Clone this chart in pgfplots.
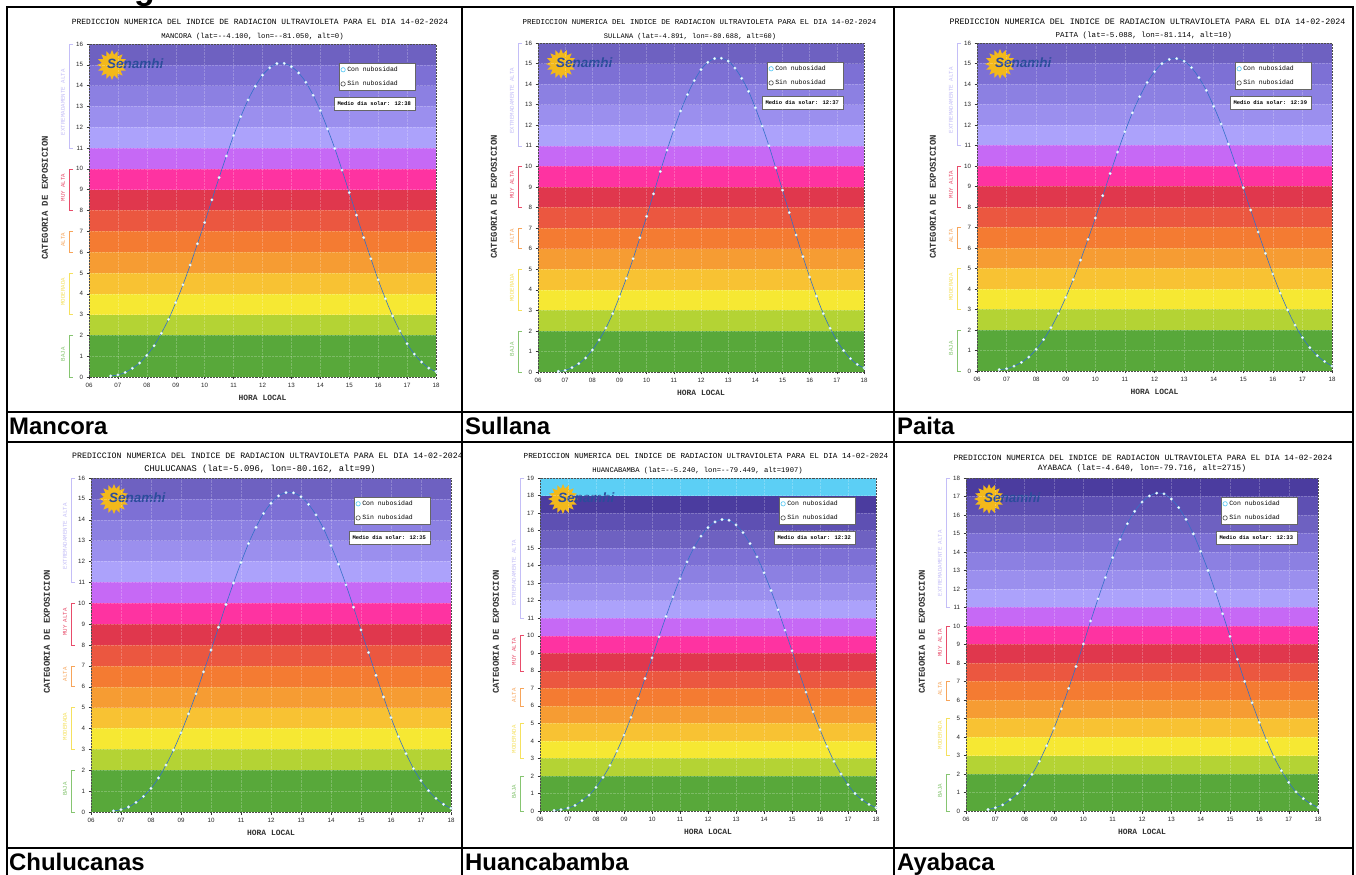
\documentclass[border=0pt]{standalone}
\usepackage{fontspec}
\setmainfont{Liberation Serif}
\newfontfamily\monof{Liberation Mono}
\newfontfamily\sansf{Liberation Sans}
\usepackage{pgfplots}
\pgfplotsset{compat=1.18}
\usetikzlibrary{shapes.geometric}

\definecolor{b1}{HTML}{58A83A}
\definecolor{b2}{HTML}{58A83A}
\definecolor{b3}{HTML}{B4D334}
\definecolor{b4}{HTML}{F6E833}
\definecolor{b5}{HTML}{F8C233}
\definecolor{b6}{HTML}{F69C33}
\definecolor{b7}{HTML}{F47B32}
\definecolor{b8}{HTML}{EB5740}
\definecolor{b9}{HTML}{E0374D}
\definecolor{b10}{HTML}{FE33A1}
\definecolor{b11}{HTML}{C669F5}
\definecolor{b12}{HTML}{ACA2FB}
\definecolor{b13}{HTML}{9B8FEE}
\definecolor{b14}{HTML}{8C80E2}
\definecolor{b15}{HTML}{7D70D5}
\definecolor{b16}{HTML}{6E61C1}
\definecolor{b17}{HTML}{5E50B3}
\definecolor{b18}{HTML}{4B3C9F}
\definecolor{b19}{HTML}{5CCFF5}
\definecolor{catEA}{HTML}{C4BEF7}
\definecolor{catMA}{HTML}{E84C6A}
\definecolor{catA}{HTML}{F7A55A}
\definecolor{catM}{HTML}{F5E15E}
\definecolor{catB}{HTML}{86C571}
\definecolor{sunY}{HTML}{F3B91B}
\definecolor{senB}{HTML}{2B4C9B}
\definecolor{curveB}{HTML}{3470C8}

\newcommand\band[1]{\addplot[draw=none, fill=b#1, forget plot] coordinates {(6,#1) (18,#1)} \closedcycle;}
\newcommand\uvcurve{\addplot[forget plot, color=curveB, line width=0.6bp, smooth, mark=*, mark size=1.3bp, mark options={fill=white, draw=cyan!25!white, line width=0.3bp, solid}]}
\newcommand\catlabelfont{\monof\fontsize{5.8}{6}\selectfont}
\newcommand\cats[2]{%
 \draw[catEA, line width=0.5bp] ([xshift=-16bp]axis cs:6,#1) -| ([xshift=-20bp]axis cs:6,11) -- ([xshift=-16bp]axis cs:6,11);
 \draw[catMA, line width=0.5bp] ([xshift=-16bp]axis cs:6,10) -| ([xshift=-20bp]axis cs:6,8) -- ([xshift=-16bp]axis cs:6,8);
 \draw[catA, line width=0.5bp] ([xshift=-16bp]axis cs:6,7) -| ([xshift=-20bp]axis cs:6,6) -- ([xshift=-16bp]axis cs:6,6);
 \draw[catM, line width=0.5bp] ([xshift=-16bp]axis cs:6,5) -| ([xshift=-20bp]axis cs:6,3) -- ([xshift=-16bp]axis cs:6,3);
 \draw[catB, line width=0.5bp] ([xshift=-16bp]axis cs:6,2) -| ([xshift=-20bp]axis cs:6,0) -- ([xshift=-16bp]axis cs:6,0);
 \node[rotate=90, text=catEA, font=\catlabelfont, inner sep=0] at ([xshift=-26bp]axis cs:6,#2) {EXTREMADAMENTE ALTA};
 \node[rotate=90, text=catMA, font=\catlabelfont, inner sep=0] at ([xshift=-26bp]axis cs:6,9.1) {MUY ALTA};
 \node[rotate=90, text=catA, font=\catlabelfont, inner sep=0] at ([xshift=-26bp]axis cs:6,6.6) {ALTA};
 \node[rotate=90, text=catM, font=\catlabelfont, inner sep=0] at ([xshift=-26bp]axis cs:6,4.1) {MODERADA};
 \node[rotate=90, text=catB, font=\catlabelfont, inner sep=0] at ([xshift=-26bp]axis cs:6,1.1) {BAJA};
}
\newcommand\logo{%
 \node[star, star points=16, star point ratio=1.45, fill=sunY, inner sep=0pt, minimum size=30bp] at ([xshift=23bp,yshift=-21bp]axis description cs:0,1) {};
 \node[anchor=west, inner sep=0, font=\sansf\bfseries\itshape\fontsize{13.5}{13.5}\selectfont, text=senB] at ([xshift=18bp,yshift=-20bp]axis description cs:0,1) {Senamhi};
}
\newcommand\medio[1]{\node[draw=black!60, fill=white, anchor=north east, minimum width=81bp, minimum height=13bp, inner sep=1bp, font=\monof\bfseries\fontsize{5.5}{6}\selectfont] at ([xshift=-21bp,yshift=-53bp]axis description cs:1,1) {Medio dia solar: #1};}
\newcommand\leg{%
 \addlegendimage{only marks, mark=o, mark size=2.2bp, cyan!70!white, line width=0.6bp}
 \addlegendentry{\makebox[64bp][l]{Con nubosidad}}
 \addlegendimage{only marks, mark=o, mark size=2.2bp, black!70, line width=0.6bp}
 \addlegendentry{\makebox[64bp][l]{Sin nubosidad}}
}

\pgfplotsset{
  uvbase/.style={
    scale only axis, xmin=6, xmax=18, ymin=0,
    xtick={6,...,18}, xticklabels={06,07,08,09,10,11,12,13,14,15,16,17,18},
    ytick distance=1,
    tick pos=left, tick align=outside, major tick length=2.5bp,
    tick style={black!80, line width=0.4bp},
    tick label style={font=\sansf\fontsize{6.2}{7}\selectfont, text=black!85},
    /pgf/number format/assume math mode=true,
    axis line style={densely dotted, black!70, line width=0.5bp},
    grid=major, grid style={densely dotted, white, opacity=0.22, line width=0.4bp},
    axis on top, clip=false,
    xlabel={HORA LOCAL}, ylabel={CATEGORIA DE EXPOSICION},
    xlabel style={font=\monof\bfseries\fontsize{8}{9}\selectfont, text=black!80, at={([yshift=-21bp]axis description cs:0.5,0)}, anchor=center},
    ylabel style={font=\monof\bfseries\fontsize{9}{10}\selectfont, text=black!80, at={([xshift=-44bp,yshift=-154bp]axis description cs:0,1)}, anchor=center},
    legend style={at={([xshift=-21bp,yshift=-19bp]axis description cs:1,1)}, anchor=north east, draw=black!60, fill=white, font=\monof\fontsize{6.5}{7}\selectfont, inner xsep=1.5bp, inner ysep=1.5bp, row sep=4bp, cells={anchor=west}},
    legend image code/.code={\draw[##1] plot coordinates {(2.5bp,0bp)};},
  }
}

\begin{document}
\begin{tikzpicture}[x=1bp,y=1bp]
\fill[white] (0,0) rectangle (1356,874);

% ---------- Mancora
\begin{axis}[uvbase, at={(89bp,497bp)}, anchor=south west, width=347bp, height=333bp, ymax=16]
\band{16}\band{15}\band{14}\band{13}\band{12}\band{11}\band{10}\band{9}\band{8}\band{7}\band{6}\band{5}\band{4}\band{3}\band{2}\band{1}
\uvcurve table {
6.75 0.05
7.00 0.10
7.25 0.22
7.50 0.42
7.75 0.67
8.00 1.04
8.25 1.50
8.50 2.10
8.75 2.77
9.00 3.57
9.25 4.43
9.50 5.38
9.75 6.40
10.00 7.42
10.25 8.51
10.50 9.58
10.75 10.62
11.00 11.60
11.25 12.51
11.50 13.31
11.75 13.97
12.00 14.50
12.25 14.85
12.50 15.06
12.75 15.07
13.00 14.91
13.25 14.61
13.50 14.16
13.75 13.54
14.00 12.80
14.25 11.92
14.50 10.98
14.75 9.94
15.00 8.86
15.25 7.78
15.50 6.70
15.75 5.68
16.00 4.67
16.25 3.76
16.50 2.93
16.75 2.21
17.00 1.60
17.25 1.10
17.50 0.72
17.75 0.43
18.00 0.26
};
\cats{16}{13.2}
\logo
\medio{12:38}
\leg
\end{axis}

% ---------- Sullana
\begin{axis}[uvbase, at={(538bp,502bp)}, anchor=south west, width=326bp, height=329bp, ymax=16]
\band{16}\band{15}\band{14}\band{13}\band{12}\band{11}\band{10}\band{9}\band{8}\band{7}\band{6}\band{5}\band{4}\band{3}\band{2}\band{1}
\uvcurve table {
6.75 0.03
7.00 0.08
7.25 0.21
7.50 0.41
7.75 0.68
8.00 1.07
8.25 1.56
8.50 2.14
8.75 2.84
9.00 3.67
9.25 4.55
9.50 5.51
9.75 6.53
10.00 7.57
10.25 8.66
10.50 9.75
10.75 10.79
11.00 11.78
11.25 12.69
11.50 13.49
11.75 14.17
12.00 14.70
12.25 15.06
12.50 15.24
12.75 15.26
13.00 15.12
13.25 14.78
13.50 14.28
13.75 13.65
14.00 12.85
14.25 11.96
14.50 11.00
14.75 9.93
15.00 8.84
15.25 7.75
15.50 6.66
15.75 5.61
16.00 4.62
16.25 3.69
16.50 2.84
16.75 2.13
17.00 1.53
17.25 1.04
17.50 0.65
17.75 0.37
18.00 0.20
};
\cats{16}{13.2}
\logo
\medio{12:37}
\leg
\end{axis}

% ---------- Paita
\begin{axis}[uvbase, at={(977bp,503bp)}, anchor=south west, width=355bp, height=328bp, ymax=16]
\band{16}\band{15}\band{14}\band{13}\band{12}\band{11}\band{10}\band{9}\band{8}\band{7}\band{6}\band{5}\band{4}\band{3}\band{2}\band{1}
\uvcurve table {
6.75 0.07
7.00 0.11
7.25 0.24
7.50 0.42
7.75 0.68
8.00 1.06
8.25 1.53
8.50 2.11
8.75 2.80
9.00 3.59
9.25 4.46
9.50 5.41
9.75 6.42
10.00 7.46
10.25 8.55
10.50 9.63
10.75 10.68
11.00 11.67
11.25 12.59
11.50 13.38
11.75 14.07
12.00 14.60
12.25 14.99
12.50 15.20
12.75 15.24
13.00 15.11
13.25 14.80
13.50 14.31
13.75 13.69
14.00 12.91
14.25 12.05
14.50 11.07
14.75 10.03
15.00 8.94
15.25 7.85
15.50 6.78
15.75 5.74
16.00 4.73
16.25 3.80
16.50 2.98
16.75 2.24
17.00 1.63
17.25 1.14
17.50 0.75
17.75 0.46
18.00 0.24
};
\cats{16}{13.2}
\logo
\medio{12:39}
\leg
\end{axis}

% ---------- Chulucanas
\begin{axis}[uvbase, at={(91bp,62bp)}, anchor=south west, width=360bp, height=334bp, ymax=16]
\band{16}\band{15}\band{14}\band{13}\band{12}\band{11}\band{10}\band{9}\band{8}\band{7}\band{6}\band{5}\band{4}\band{3}\band{2}\band{1}
\uvcurve table {
6.75 0.05
7.00 0.11
7.25 0.24
7.50 0.46
7.75 0.75
8.00 1.13
8.25 1.63
8.50 2.25
8.75 2.97
9.00 3.79
9.25 4.70
9.50 5.66
9.75 6.71
10.00 7.76
10.25 8.85
10.50 9.94
10.75 10.97
11.00 11.95
11.25 12.86
11.50 13.64
11.75 14.30
12.00 14.79
12.25 15.14
12.50 15.30
12.75 15.29
13.00 15.10
13.25 14.74
13.50 14.23
13.75 13.58
14.00 12.76
14.25 11.87
14.50 10.88
14.75 9.81
15.00 8.72
15.25 7.64
15.50 6.55
15.75 5.51
16.00 4.52
16.25 3.61
16.50 2.80
16.75 2.08
17.00 1.50
17.25 1.02
17.50 0.65
17.75 0.37
18.00 0.18
};
\cats{16}{13.2}
\logo
\medio{12:35}
\leg
\end{axis}

% ---------- Huancabamba
\begin{axis}[uvbase, at={(540bp,63bp)}, anchor=south west, width=336bp, height=333bp, ymax=19]
\band{19}\band{18}\band{17}\band{16}\band{15}\band{14}\band{13}\band{12}\band{11}\band{10}\band{9}\band{8}\band{7}\band{6}\band{5}\band{4}\band{3}\band{2}\band{1}
\uvcurve table {
6.50 0.04
6.75 0.08
7.00 0.17
7.25 0.32
7.50 0.59
7.75 0.91
8.00 1.35
8.25 1.92
8.50 2.60
8.75 3.42
9.00 4.33
9.25 5.34
9.50 6.42
9.75 7.56
10.00 8.74
10.25 9.94
10.50 11.10
10.75 12.22
11.00 13.26
11.25 14.21
11.50 15.03
11.75 15.68
12.00 16.17
12.25 16.49
12.50 16.63
12.75 16.59
13.00 16.32
13.25 15.88
13.50 15.26
13.75 14.50
14.00 13.59
14.25 12.58
14.50 11.48
14.75 10.32
15.00 9.14
15.25 7.94
15.50 6.78
15.75 5.66
16.00 4.64
16.25 3.69
16.50 2.83
16.75 2.11
17.00 1.50
17.25 1.00
17.50 0.65
17.75 0.38
18.00 0.19
};
\cats{19}{13.6}
\logo
\medio{12:32}
\leg
\end{axis}

% ---------- Ayabaca
\begin{axis}[uvbase, at={(966bp,63bp)}, anchor=south west, width=352bp, height=333bp, ymax=18]
\band{18}\band{17}\band{16}\band{15}\band{14}\band{13}\band{12}\band{11}\band{10}\band{9}\band{8}\band{7}\band{6}\band{5}\band{4}\band{3}\band{2}\band{1}
\uvcurve table {
6.75 0.08
7.00 0.18
7.25 0.33
7.50 0.61
7.75 0.94
8.00 1.39
8.25 1.98
8.50 2.69
8.75 3.53
9.00 4.47
9.25 5.52
9.50 6.63
9.75 7.81
10.00 9.03
10.25 10.27
10.50 11.47
10.75 12.62
11.00 13.70
11.25 14.68
11.50 15.53
11.75 16.20
12.00 16.70
12.25 17.03
12.50 17.18
12.75 17.14
13.00 16.86
13.25 16.40
13.50 15.76
13.75 14.98
14.00 14.04
14.25 13.00
14.50 11.86
14.75 10.66
15.00 9.44
15.25 8.20
15.50 7.00
15.75 5.85
16.00 4.79
16.25 3.81
16.50 2.92
16.75 2.18
17.00 1.55
17.25 1.03
17.50 0.67
17.75 0.39
18.00 0.20
};
\cats{18}{13.4}
\logo
\medio{12:33}
\leg
\end{axis}

% ---------- titles
\node[font=\monof\fontsize{7.97}{8}\selectfont, text=black, inner sep=0] at (260,852) {PREDICCION NUMERICA DEL INDICE DE RADIACION ULTRAVIOLETA PARA EL DIA 14-02-2024};
\node[font=\monof\fontsize{7.26}{8}\selectfont, text=black, inner sep=0] at (252.5,837) {MANCORA (lat=-{}-4.100, lon=-{}-81.050, alt=0)};
\node[font=\monof\fontsize{7.49}{8}\selectfont, text=black, inner sep=0] at (699.5,852) {PREDICCION NUMERICA DEL INDICE DE RADIACION ULTRAVIOLETA PARA EL DIA 14-02-2024};
\node[font=\monof\fontsize{7.03}{8}\selectfont, text=black, inner sep=0] at (690,837) {SULLANA (lat=-4.891, lon=-80.688, alt=60)};
\node[font=\monof\fontsize{8.38}{9}\selectfont, text=black, inner sep=0] at (1147.5,852) {PREDICCION NUMERICA DEL INDICE DE RADIACION ULTRAVIOLETA PARA EL DIA 14-02-2024};
\node[font=\monof\fontsize{7.56}{8}\selectfont, text=black, inner sep=0] at (1143.7,838) {PAITA (lat=-5.088, lon=-81.114, alt=10)};
\begin{scope}
\clip (8,400) rectangle (461,430);
\node[anchor=west, font=\monof\fontsize{8.27}{9}\selectfont, text=black, inner sep=0] at (72,418.3) {PREDICCION NUMERICA DEL INDICE DE RADIACION ULTRAVIOLETA PARA EL DIA 14-02-2024};
\end{scope}
\node[font=\monof\fontsize{8.8}{9}\selectfont, text=black, inner sep=0] at (260,405) {CHULUCANAS (lat=-5.096, lon=-80.162, alt=99)};
\node[font=\monof\fontsize{7.72}{8}\selectfont, text=black, inner sep=0] at (706,418) {PREDICCION NUMERICA DEL INDICE DE RADIACION ULTRAVIOLETA PARA EL DIA 14-02-2024};
\node[font=\monof\fontsize{7.18}{8}\selectfont, text=black, inner sep=0] at (697.5,403.3) {HUANCABAMBA (lat=-{}-5.240, lon=-{}-79.449, alt=1907)};
\node[font=\monof\fontsize{8.02}{9}\selectfont, text=black, inner sep=0] at (1143,416.3) {PREDICCION NUMERICA DEL INDICE DE RADIACION ULTRAVIOLETA PARA EL DIA 14-02-2024};
\node[font=\monof\fontsize{8.1}{9}\selectfont, text=black, inner sep=0] at (1142,406) {AYABACA (lat=-4.640, lon=-79.716, alt=2715)};

% ---------- table frame
\draw[line width=2bp] (6,867) -- (1354,867);
\draw[line width=2bp] (6,462) -- (1354,462);
\draw[line width=2bp] (6,432) -- (1354,432);
\draw[line width=2bp] (6,26) -- (1354,26);
\draw[line width=2bp] (7,867) -- (7,-2);
\draw[line width=2bp] (462,867) -- (462,-2);
\draw[line width=2bp] (894,867) -- (894,-2);
\draw[line width=2bp] (1353,867) -- (1353,-2);

% ---------- labels
\node[anchor=base west, inner sep=0, font=\sansf\bfseries\fontsize{24}{24}\selectfont] at (9,439) {Mancora};
\node[anchor=base west, inner sep=0, font=\sansf\bfseries\fontsize{24}{24}\selectfont] at (465,439) {Sullana};
\node[anchor=base west, inner sep=0, font=\sansf\bfseries\fontsize{24}{24}\selectfont] at (897,439) {Paita};
\node[anchor=base west, inner sep=0, font=\sansf\bfseries\fontsize{24}{24}\selectfont] at (9,4) {Chulucanas};
\node[anchor=base west, inner sep=0, font=\sansf\bfseries\fontsize{24}{24}\selectfont] at (465,4) {Huancabamba};
\node[anchor=base west, inner sep=0, font=\sansf\bfseries\fontsize{24}{24}\selectfont] at (897,4) {Ayabaca};
\node[anchor=base west, inner sep=0, font=\sansf\bfseries\fontsize{34}{34}\selectfont] at (134,874) {g};

\pgfresetboundingbox
\useasboundingbox (0,0) rectangle (1356,874);
\end{tikzpicture}
\end{document}
